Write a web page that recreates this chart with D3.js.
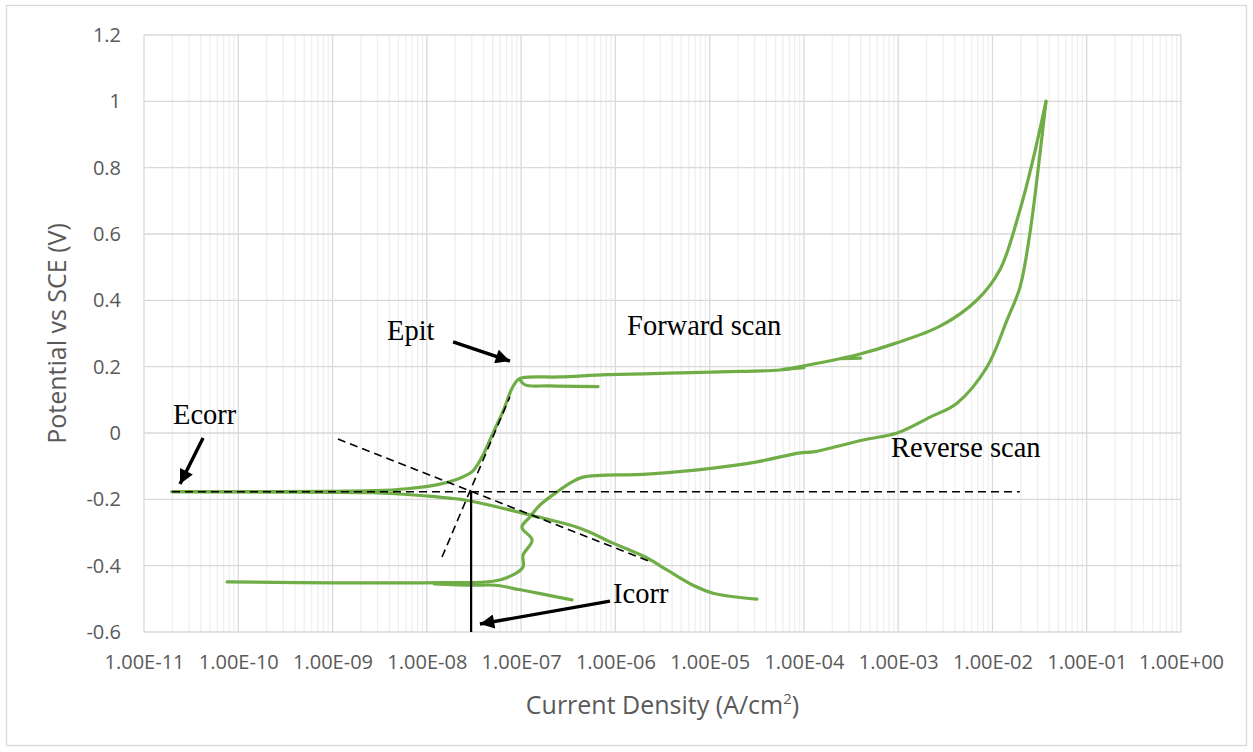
<!DOCTYPE html>
<html>
<head>
<meta charset="utf-8">
<script src="https://cdn.jsdelivr.net/npm/d3@7/dist/d3.min.js"></script>
<style>
  html, body { margin: 0; padding: 0; background: #fff; }
  svg { display: block; }
</style>
</head>
<body>
<svg id="chart" width="1253" height="752"></svg>
<script>
// ---------------- DATA (current density A/cm2, potential V vs SCE) ----------------
const xTickValues = [1e-11, 1e-10, 1e-9, 1e-8, 1e-7, 1e-6, 1e-5, 1e-4, 1e-3, 1e-2, 1e-1, 1e0];
const xTickLabels = ["1.00E-11","1.00E-10","1.00E-09","1.00E-08","1.00E-07","1.00E-06","1.00E-05","1.00E-04","1.00E-03","1.00E-02","1.00E-01","1.00E+00"];
const yTickValues = [-0.6, -0.4, -0.2, 0, 0.2, 0.4, 0.6, 0.8, 1, 1.2];
const yTickLabels = ["-0.6","-0.4","-0.2","0","0.2","0.4","0.6","0.8","1","1.2"];

// Forward (anodic) scan from Ecorr up to the vertex
const forwardScan = [
  [1.98e-11,-0.177],[1.33e-10,-0.177],[2.69e-9,-0.174],[6.17e-9,-0.168],[1.38e-8,-0.154],
  [2.25e-8,-0.136],[3.09e-8,-0.114],[3.95e-8,-0.066],[5.04e-8,0.0],[6.43e-8,0.065],
  [8.02e-8,0.135],[9.2e-8,0.160],[1.05e-7,0.167],[2.59e-7,0.169],[8.15e-7,0.176],
  [4.85e-6,0.181],[2.1e-5,0.186],[5.58e-5,0.190],[9.8e-5,0.202],[2.6e-4,0.226],
  [3.94e-4,0.238],[8.8e-4,0.268],[2.78e-3,0.322],[6.86e-3,0.401],[1.2e-2,0.492],
  [1.96e-2,0.673],[2.69e-2,0.824],[3.7e-2,1.0]
];
// Small step excursions on the forward scan
const forwardStep1 = [[9.8e-8,0.160],[1.1e-7,0.145],[2.0e-7,0.142],[6.55e-7,0.140]];
const forwardStep2 = [[6.0e-5,0.192],[1.0e-4,0.197]];
const forwardStep3 = [[2.5e-4,0.224],[4.0e-4,0.226]];

// Reverse scan from the vertex back down
const reverseScan = [
  [3.7e-2,1.0],[3.2e-2,0.845],[2.5e-2,0.604],[1.96e-2,0.44],[1.43e-2,0.341],[8.75e-3,0.199],
  [4.21e-3,0.09],[2.18e-3,0.048],[9.73e-4,0.0],[4.24e-4,-0.021],[1.25e-4,-0.057],
  [9.1e-5,-0.060],[3.18e-5,-0.087],[1.09e-5,-0.106],[2.17e-6,-0.124],[4.54e-7,-0.133],
  [3.3e-7,-0.151],[2.4e-7,-0.178],[1.59e-7,-0.217],[1.24e-7,-0.253],[1.02e-7,-0.284],
  [1.31e-7,-0.323],[1.05e-7,-0.368],[1.05e-7,-0.404],[8.2e-8,-0.428],[5.04e-8,-0.447],
  [1.38e-8,-0.451],[4.52e-10,-0.451],[7.6e-11,-0.449]
];
// Reverse-scan tail below the repassivation point
const reverseTail = [[1.2e-8,-0.455],[3.0e-8,-0.459],[5.3e-8,-0.459],[9.5e-8,-0.472],[1.7e-7,-0.486],[3.47e-7,-0.503]];

// Cathodic branch from Ecorr
const cathodicScan = [
  [1.98e-11,-0.177],[2.69e-9,-0.180],[5.2e-9,-0.184],[1.0e-8,-0.190],[2.54e-8,-0.202],
  [3.66e-8,-0.211],[1.24e-7,-0.247],[4.22e-7,-0.287],[9.44e-7,-0.332],[2.17e-6,-0.377],
  [3.53e-6,-0.413],[6.67e-6,-0.459],[1.09e-5,-0.483],[3.18e-5,-0.501]
];

// Tafel construction lines
const ecorrLine = [[1.98e-11,-0.177],[1.95e-2,-0.177]];
const cathodicTafel = [[1.14e-9,-0.018],[2.4e-6,-0.389]];
const anodicTafel = [[1.45e-8,-0.374],[7.6e-8,0.109]];
const icorrLine = [[2.95e-8,-0.177],[2.95e-8,-0.6]];

// Annotations: [text, current, potential]
const labels = [
  ["Epit", 3.78e-9, 0.281],
  ["Forward scan", 1.33e-6, 0.296],
  ["Ecorr", 2.03e-11, 0.027],
  ["Reverse scan", 8.4e-4, -0.072],
  ["Icorr", 9.44e-7, -0.513]
];
// Arrows: [from current, from potential, to current, to potential]
const arrows = [
  [1.9e-8, 0.2745, 7.62e-8, 0.217],
  [4.23e-11, -0.015, 2.41e-11, -0.154],
  [8.77e-7, -0.507, 3.66e-8, -0.576]
];

// ---------------- CHART ----------------
const W = 1253, H = 752;
const margin = {left: 144, right: 72, top: 35, bottom: 120};
const svg = d3.select("#chart");

svg.append("rect").attr("x", 6.5).attr("y", 5.5).attr("width", 1240).attr("height", 740)
  .attr("fill", "#fff").attr("stroke", "#d9d9d9").attr("stroke-width", 1.3);

const x = d3.scaleLog().domain([1e-11, 1]).range([margin.left, W - margin.right]);
const y = d3.scaleLinear().domain([-0.6, 1.2]).range([H - margin.bottom, margin.top]);

const g = svg.append("g");

// minor vertical gridlines
const minor = [];
for (let e = -11; e < 0; e++) for (let k = 2; k <= 9; k++) minor.push(k * Math.pow(10, e));
g.selectAll(".minor").data(minor).join("line")
  .attr("x1", d => x(d)).attr("x2", d => x(d))
  .attr("y1", y(1.2)).attr("y2", y(-0.6))
  .attr("stroke", "#efefef").attr("stroke-width", 1.3);

// major vertical gridlines
g.selectAll(".majorx").data(xTickValues).join("line")
  .attr("x1", d => x(d)).attr("x2", d => x(d))
  .attr("y1", y(1.2)).attr("y2", y(-0.6))
  .attr("stroke", "#d9d9d9").attr("stroke-width", 1.3);

// horizontal gridlines
g.selectAll(".majory").data(yTickValues).join("line")
  .attr("x1", x(1e-11)).attr("x2", x(1))
  .attr("y1", d => y(d)).attr("y2", d => y(d))
  .attr("stroke", "#d9d9d9").attr("stroke-width", 1.3);

// axes (labels only)
const tickFont = "'Open Sans', 'Noto Sans', sans-serif";
const xAxis = d3.axisBottom(x).tickValues(xTickValues)
  .tickFormat((d, i) => xTickLabels[i]).tickSize(0).tickPadding(23);
const xa = svg.append("g").attr("transform", `translate(0,${y(-0.6)})`).call(xAxis);
xa.select(".domain").remove();
xa.selectAll("text").attr("font-family", tickFont).attr("font-size", 20).attr("fill", "#595959");

const yAxis = d3.axisLeft(y).tickValues(yTickValues)
  .tickFormat((d, i) => yTickLabels[i]).tickSize(0).tickPadding(23);
const ya = svg.append("g").attr("transform", `translate(${x(1e-11)},0)`).call(yAxis);
ya.select(".domain").remove();
ya.selectAll("text").attr("font-family", tickFont).attr("font-size", 20).attr("fill", "#595959");

// axis titles
const xt = svg.append("text").attr("x", (x(1e-11) + x(1)) / 2).attr("y", 714)
  .attr("text-anchor", "middle").attr("font-family", tickFont).attr("font-size", 25)
  .attr("fill", "#595959");
xt.append("tspan").text("Current Density (A/cm");
xt.append("tspan").text("2").attr("font-size", 15).attr("dy", -10);
xt.append("tspan").text(")").attr("dy", 10);

svg.append("text").attr("transform", `translate(66,${(y(1.2) + y(-0.6)) / 2}) rotate(-90)`)
  .attr("text-anchor", "middle").attr("font-family", tickFont).attr("font-size", 25)
  .attr("fill", "#595959").text("Potential vs SCE (V)");

// data lines
const line = d3.line().x(d => x(d[0])).y(d => y(d[1])).curve(d3.curveCatmullRom.alpha(0.5));
const straight = d3.line().x(d => x(d[0])).y(d => y(d[1]));
const green = "#70ad47";
[forwardScan, forwardStep1, forwardStep2, forwardStep3, reverseScan, reverseTail, cathodicScan].forEach(s => {
  g.append("path").datum(s).attr("d", line).attr("fill", "none")
    .attr("stroke", green).attr("stroke-width", 3.2)
    .attr("stroke-linejoin", "round").attr("stroke-linecap", "round");
});

// construction lines
[ecorrLine, cathodicTafel, anodicTafel].forEach(s => {
  g.append("path").datum(s).attr("d", straight).attr("fill", "none")
    .attr("stroke", "#000").attr("stroke-width", 1.6).attr("stroke-dasharray", "8,5");
});
g.append("path").datum(icorrLine).attr("d", straight).attr("fill", "none")
  .attr("stroke", "#000").attr("stroke-width", 2.2);

// arrows
svg.append("defs").append("marker").attr("id", "ah")
  .attr("viewBox", "0 0 10 10").attr("refX", 10).attr("refY", 5)
  .attr("markerWidth", 4.6).attr("markerHeight", 4.2).attr("markerUnits", "strokeWidth")
  .attr("orient", "auto")
  .append("path").attr("d", "M0,0 L10,5 L0,10 z").attr("fill", "#000");

svg.selectAll(".arrow").data(arrows).join("line")
  .attr("x1", d => x(d[0])).attr("y1", d => y(d[1]))
  .attr("x2", d => x(d[2])).attr("y2", d => y(d[3]))
  .attr("stroke", "#000").attr("stroke-width", 3.4).attr("marker-end", "url(#ah)");

// text labels
svg.selectAll(".lbl").data(labels).join("text")
  .attr("x", d => x(d[1])).attr("y", d => y(d[2]))
  .attr("font-family", "'Liberation Serif', 'Times New Roman', serif")
  .attr("font-size", 28.5).attr("fill", "#000").text(d => d[0]);
</script>
</body>
</html>
